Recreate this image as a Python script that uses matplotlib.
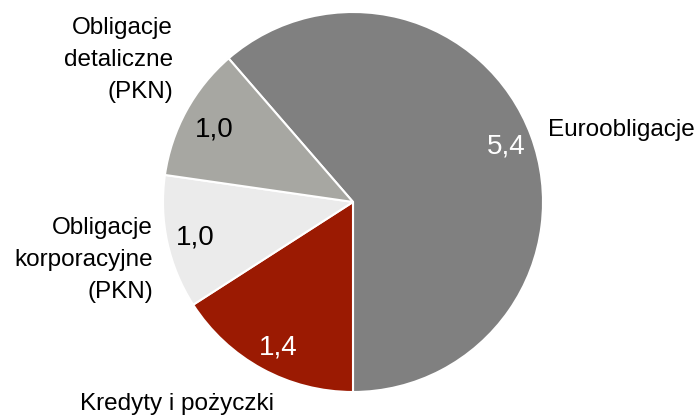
import matplotlib.pyplot as plt

categories = ["Euroobligacje", "Kredyty i pożyczki",
              "Obligacje\nkorporacyjne\n(PKN)", "Obligacje\ndetaliczne\n(PKN)"]
values = [5.4, 1.4, 1.0, 1.0]
value_labels = ["5,4", "1,4", "1,0", "1,0"]
slice_colors = ["#808080", "#9B1A02", "#EBEBEB", "#A7A7A2"]
value_colors = ["white", "white", "black", "black"]

plt.rcParams['font.family'] = ['Liberation Sans', 'DejaVu Sans']

# pixel geometry of the pie in the 695x418 image
cx, cy, r = 353, 202, 190
W, H = 695, 418

def px(x, y):
    # pixel position -> data coords (pie radius = 1)
    return (x - cx) / r, (cy - y) / r

fig = plt.figure(figsize=(6.95, 4.18), dpi=100)
ax = fig.add_axes([0, 0, 1, 1])

# euro slice ends pointing straight down, going clockwise
start = -90 + 360 * values[0] / sum(values)
ax.pie(values, colors=slice_colors, startangle=start, counterclock=False,
       wedgeprops=dict(edgecolor='white', linewidth=1.5))
ax.set_xlim(-cx / r, (W - cx) / r)
ax.set_ylim((cy - H) / r, cy / r)
ax.set_aspect('auto')
ax.axis('off')

fs = 17.5   # category labels (narrow face in the original)
ax.text(*px(548, 130), categories[0], ha='left', va='center', fontsize=fs)
ax.text(*px(177, 404), categories[1], ha='center', va='center', fontsize=fs)
ax.text(*px(153, 260), categories[2], ha='right', va='center', fontsize=fs,
        multialignment='right', linespacing=1.6)
ax.text(*px(173, 60), categories[3], ha='right', va='center', fontsize=fs,
        multialignment='right', linespacing=1.6)

# value labels
val_pos = [(506, 146), (278, 347), (195, 237), (214, 130)]
for (x, y), lab, c in zip(val_pos, value_labels, value_colors):
    ax.text(*px(x, y), lab, ha='center', va='center', fontsize=20, color=c)

fig.savefig("out.png", dpi=100)
